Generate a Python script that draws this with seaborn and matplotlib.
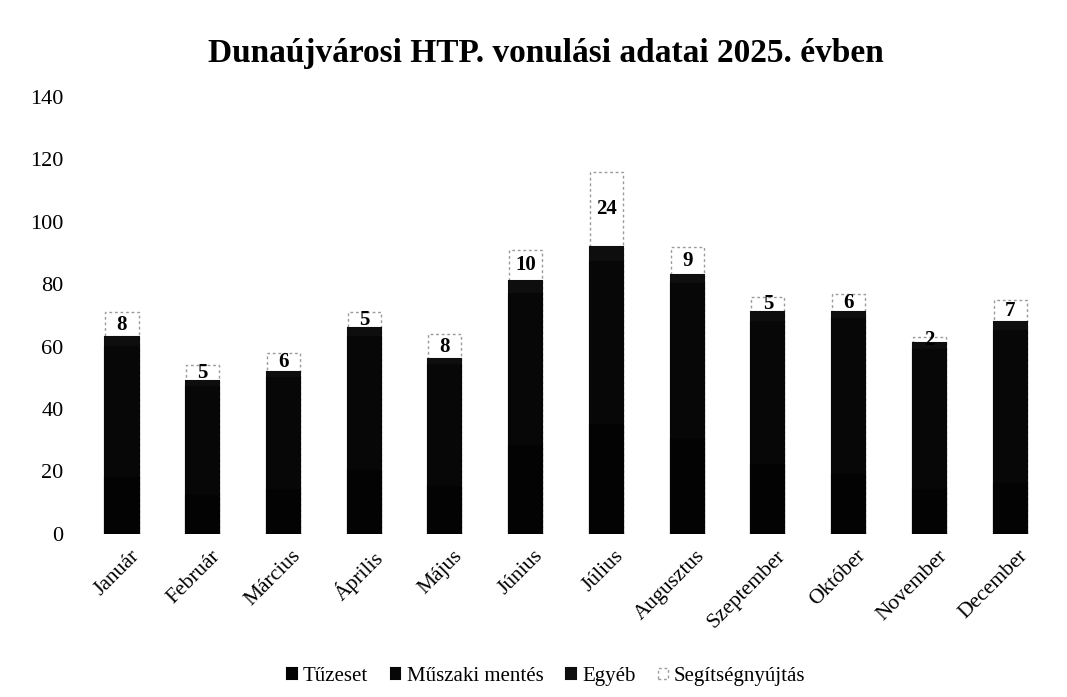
"""
Dunaújvárosi HTP. vonulási adatai 2025. évben - stacked monthly bar chart.
"""

import numpy as np
import pandas as pd
import matplotlib
matplotlib.use('Agg')
import matplotlib.pyplot as plt
import matplotlib.transforms as mtransforms
import seaborn as sns

#  Data
honapok = ['Január', 'Február', 'Március', 'Április', 'Május', 'Június',
           'Július', 'Augusztus', 'Szeptember', 'Október', 'November', 'December']
tuzeset = [18, 12, 14, 20, 15, 28, 35, 30, 22, 19, 14, 16]
muszaki = [42, 35, 36, 43, 39, 49, 52, 50, 46, 50, 45, 49]
egyeb = [3, 2, 2, 3, 2, 4, 5, 3, 3, 2, 2, 3]
segitseg = [8, 5, 6, 5, 8, 10, 24, 9, 5, 6, 2, 7]

#  Cumulative tops for layered (overlay) stacking
df = pd.DataFrame({'Hónap': honapok, 'Tűzeset': tuzeset,
                   'Műszaki mentés': muszaki, 'Egyéb': egyeb,
                   'Segítségnyújtás': segitseg})
df['top_tuz'] = df['Tűzeset']
df['top_musz'] = df['top_tuz'] + df['Műszaki mentés']
df['top_egyeb'] = df['top_musz'] + df['Egyéb']
df['top_seg'] = df['top_egyeb'] + df['Segítségnyújtás']

sns.set_style('white')
plt.rcParams['font.family'] = ['Liberation Serif', 'DejaVu Serif']
plt.rcParams['text.color'] = 'black'
plt.rcParams['xtick.color'] = 'black'
plt.rcParams['ytick.color'] = 'black'

fig, ax = plt.subplots(figsize=(10.67, 6.97), dpi=100)
fig.subplots_adjust(left=0.0765, right=0.9845, top=0.861, bottom=0.234)

bw = 0.41
#  White top segment with dashed grey border
sns.barplot(data=df, x='Hónap', y='top_seg', color='white', width=bw,
            edgecolor='#9a9a9a', linewidth=1.0, linestyle=(0, (2, 2)),
            saturation=1, ax=ax, label='Segítségnyújtás')
sns.barplot(data=df, x='Hónap', y='top_egyeb', color='#0e0e0e', width=bw,
            edgecolor='#0e0e0e', linewidth=1.5,
            saturation=1, ax=ax, label='Egyéb')
sns.barplot(data=df, x='Hónap', y='top_musz', color='#070707', width=bw,
            edgecolor='#070707', linewidth=1.5,
            saturation=1, ax=ax, label='Műszaki mentés')
sns.barplot(data=df, x='Hónap', y='top_tuz', color='#030303', width=bw,
            edgecolor='#030303', linewidth=1.5,
            saturation=1, ax=ax, label='Tűzeset')

#  Value labels in the white segment
for i, row in df.iterrows():
    ax.text(i, (row['top_egyeb'] + row['top_seg']) / 2, str(row['Segítségnyújtás']),
            ha='center', va='center', fontsize=15, fontweight='bold', color='black')

ax.set_ylim(0, 140)
ax.set_xlim(-0.5, 11.5)
ax.set_yticks(range(0, 141, 20))
ax.tick_params(axis='y', labelsize=16, length=0, pad=13)
ax.tick_params(axis='x', labelsize=15.5, length=0, pad=9)
offset = mtransforms.ScaledTranslation(8 / 100, 0, fig.dpi_scale_trans)
for lbl in ax.get_xticklabels():
    lbl.set_rotation(45)
    lbl.set_ha('right')
    lbl.set_rotation_mode('anchor')
    lbl.set_transform(lbl.get_transform() + offset)
ax.set_xlabel('')
ax.set_ylabel('')
sns.despine(ax=ax, left=True, bottom=True)

fig.suptitle('Dunaújvárosi HTP. vonulási adatai 2025. évben', fontsize=24,
             fontweight='bold', x=0.512, y=0.945)

#  Legend in original order (figure-level, below the plot)
handles, labels = ax.get_legend_handles_labels()
ax.get_legend().remove()
order = ['Tűzeset', 'Műszaki mentés', 'Egyéb', 'Segítségnyújtás']
hmap = dict(zip(labels, handles))
fig.legend([hmap[o] for o in order], order, loc='center',
           bbox_to_anchor=(0.512, 0.03), ncol=4, frameon=False,
           fontsize=15, handlelength=0.45, handleheight=0.45,
           handletextpad=0.3, columnspacing=1.1)

plt.savefig('out.png', dpi=100)
